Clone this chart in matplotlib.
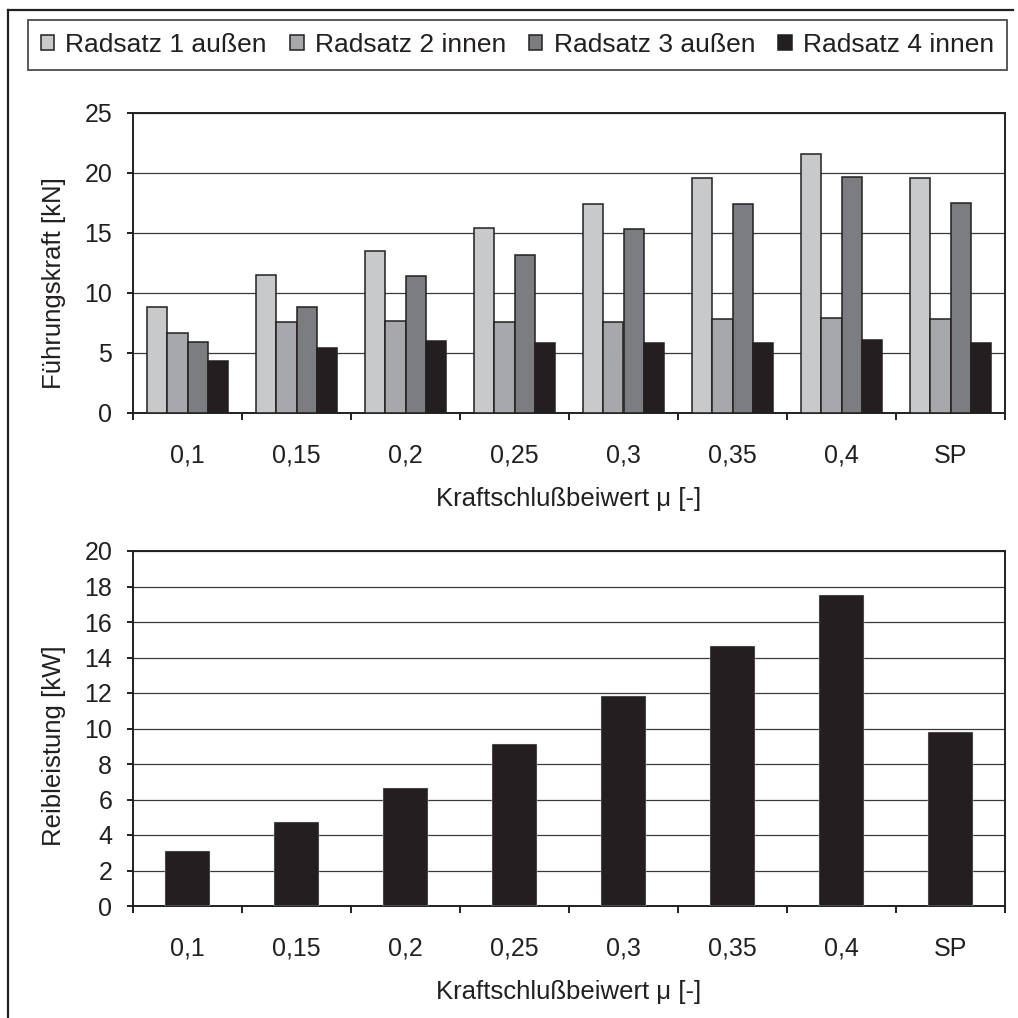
import matplotlib
matplotlib.use("Agg")
import matplotlib.pyplot as plt
import numpy as np
from matplotlib.lines import Line2D

plt.rcParams['font.family'] = ['Liberation Sans', 'DejaVu Sans']

categories = ["0,1", "0,15", "0,2", "0,25", "0,3", "0,35", "0,4", "SP"]
series_names = ["Radsatz 1 außen", "Radsatz 2 innen", "Radsatz 3 außen", "Radsatz 4 innen"]
radsatz1 = [8.8, 11.5, 13.5, 15.4, 17.4, 19.55, 21.55, 19.55]
radsatz2 = [6.7, 7.55, 7.7, 7.55, 7.6, 7.8, 7.95, 7.8]
radsatz3 = [5.9, 8.8, 11.4, 13.2, 15.3, 17.4, 19.7, 17.5]
radsatz4 = [4.3, 5.4, 6.0, 5.8, 5.8, 5.85, 6.05, 5.85]
reibleistung = [3.1, 4.72, 6.64, 9.14, 11.85, 14.63, 17.54, 9.8]

colors = ["#c8c9cb", "#a7a8ab", "#7c7d80", "#231f20"]
dark = "#231f20"

TICK_FS = 18
LABEL_FS = 18.5
LEG_FS = 19

W = H = 1018
fig = plt.figure(figsize=(W / 100, H / 100), dpi=100)

def fx(px):
    return px / W

def fy(py):
    return 1 - py / H

ax1 = fig.add_axes([fx(133), fy(413), fx(1005) - fx(133), fy(113) - fy(413)])
ax2 = fig.add_axes([fx(133), fy(906), fx(1005) - fx(133), fy(551) - fy(906)])

x = np.arange(len(categories))
bw = 0.1835
allseries = [radsatz1, radsatz2, radsatz3, radsatz4]
handles = []
for i, (vals, c, name) in enumerate(zip(allseries, colors, series_names)):
    b = ax1.bar(x + (i - 1.5) * bw, vals, bw, color=c, edgecolor=dark,
                linewidth=1.1, label=name, zorder=3)
    handles.append(b)

ax2.bar(x, reibleistung, 0.41, color=dark, edgecolor="#dddddd", linewidth=0.3, zorder=3)

def style(ax, ymax, step, ylabel):
    ax.set_xlim(-0.5, len(categories) - 0.5)
    ax.set_ylim(0, ymax)
    ticks = np.arange(0, ymax + 0.01, step)
    ax.set_yticks(ticks)
    ax.set_yticklabels([f"{int(v)}" for v in ticks])
    ax.yaxis.grid(True, color="#3a3a3a", linewidth=0.9, zorder=0)
    ax.set_axisbelow(True)
    for s in ax.spines.values():
        s.set_color(dark)
        s.set_linewidth(1.4)
    ax.set_xticks(np.arange(-0.5, len(categories), 1.0))
    ax.set_xticklabels([])
    ax.set_xticks(x, minor=True)
    ax.set_xticklabels(categories, minor=True)
    ax.tick_params(axis="x", which="major", direction="out", length=5, width=1.4, color=dark)
    ax.tick_params(axis="x", which="minor", length=0, pad=22, labelsize=TICK_FS, labelcolor=dark)
    ax.tick_params(axis="y", direction="out", length=4, width=1.4, color=dark,
                   labelsize=TICK_FS, labelcolor=dark, pad=11)
    ax.set_xlabel("Kraftschlußbeiwert μ [-]", fontsize=LABEL_FS, color=dark, labelpad=14)
    ax.set_ylabel(ylabel, fontsize=LABEL_FS, color=dark)

style(ax1, 25, 5, "Führungskraft [kN]")
style(ax2, 20, 2, "Reibleistung [kW]")
ax1.yaxis.set_label_coords(-(133 - 54) / (1005 - 133), 0.5 - 20 / 300)
ax2.yaxis.set_label_coords(-(133 - 54) / (1005 - 133), 0.5 - 17 / 355)
ax1.yaxis.label.set_va("center")
ax2.yaxis.label.set_va("center")

leg = fig.legend(handles=handles, labels=series_names, loc="upper left", ncol=4,
                 mode="expand",
                 bbox_to_anchor=(fx(28), fy(21), fx(1007) - fx(28), 0.001),
                 fontsize=LEG_FS, frameon=True, fancybox=False, borderaxespad=0,
                 handlelength=0.5, handleheight=0.5, handletextpad=0.42,
                 columnspacing=0.4, borderpad=0.5)
leg.get_frame().set_edgecolor(dark)
leg.get_frame().set_linewidth(1.3)
for t in leg.get_texts():
    t.set_color(dark)

# outer frame (top and left edges)
fig.add_artist(Line2D([fx(8), fx(1013)], [fy(10), fy(10)], color=dark, linewidth=1.6,
                      transform=fig.transFigure))
fig.add_artist(Line2D([fx(8), fx(8)], [fy(10), 0], color=dark, linewidth=1.6,
                      transform=fig.transFigure))

fig.savefig("out.png", dpi=100, facecolor="white")
